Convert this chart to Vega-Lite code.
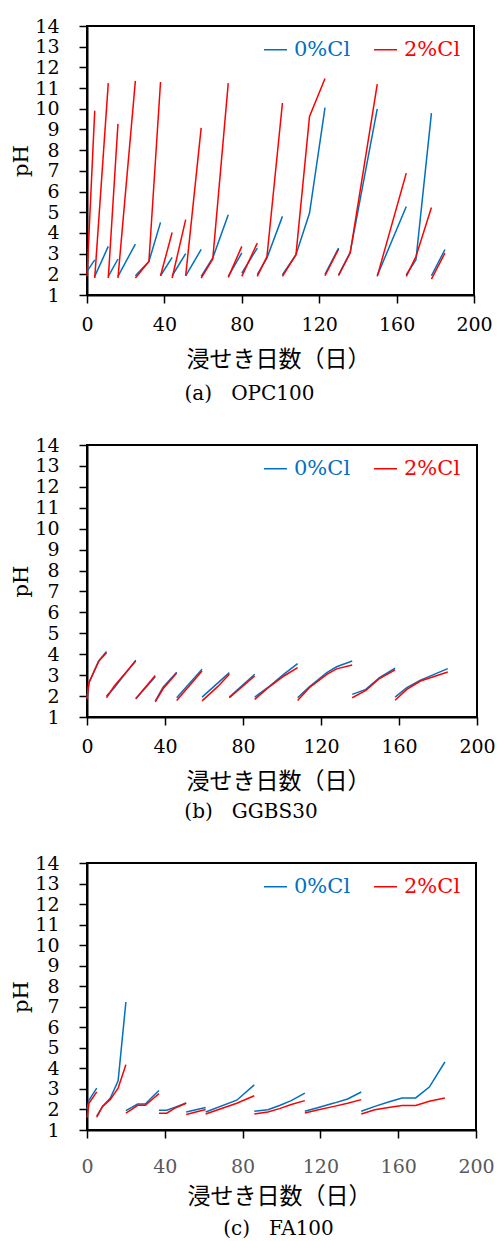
{
  "$schema": "https://vega.github.io/schema/vega-lite/v6.json",
  "padding": {"top": 16, "left": 9, "right": 2, "bottom": 0},
  "spacing": 30,
  "config": {
    "view": {"stroke": "black", "strokeWidth": 2},
    "axis": {
      "domainColor": "black", "domainWidth": 2, "tickColor": "black", "tickWidth": 1.5, "tickSize": 8,
      "grid": false, "labelFont": "DejaVu Serif", "labelFontSize": 19, "labelColor": "black",
      "titleColor": "black", "titleFontWeight": "normal"
    },
    "axisX": {"labelPadding": 12, "titleFont": "Noto Sans CJK JP", "titleFontSize": 23, "titlePadding": 14, "labelFlush": false, "labelOverlap": false},
    "axisY": {"labelPadding": 20, "titleFont": "DejaVu Serif", "titleFontSize": 21, "titlePadding": 3, "labelOverlap": false},
    "title": {"font": "DejaVu Serif", "fontSize": 20, "fontWeight": "normal", "color": "black", "orient": "bottom", "offset": 13},
    "legend": {
      "orient": "none", "direction": "horizontal", "title": null, "padding": 0,
      "symbolType": "stroke", "symbolSize": 529, "symbolStrokeWidth": 2,
      "labelFont": "DejaVu Serif", "labelFontSize": 21, "labelOffset": 6, "columnPadding": 20,
      "labelColor": {"expr": "datum.value == '0%Cl' ? '#0070C0' : '#FF0000'"},
      "legendX": 176, "legendY": 11
    },
    "line": {"strokeWidth": 1.5}
  },
  "resolve": {"scale": {"color": "independent"}, "legend": {"color": "independent"}},
  "datasets": {
    "a": [
      {"s":"0%Cl","g":1,"d":0,"pH":2.14},{"s":"0%Cl","g":1,"d":4,"pH":2.7},
      {"s":"0%Cl","g":2,"d":4,"pH":1.9},{"s":"0%Cl","g":2,"d":11,"pH":3.35},
      {"s":"0%Cl","g":3,"d":11,"pH":1.9},{"s":"0%Cl","g":3,"d":16,"pH":2.74},
      {"s":"0%Cl","g":4,"d":16,"pH":1.9},{"s":"0%Cl","g":4,"d":25,"pH":3.46},
      {"s":"0%Cl","g":5,"d":25,"pH":1.93},{"s":"0%Cl","g":5,"d":32,"pH":2.62},{"s":"0%Cl","g":5,"d":38,"pH":4.51},
      {"s":"0%Cl","g":6,"d":38,"pH":1.93},{"s":"0%Cl","g":6,"d":44,"pH":2.82},
      {"s":"0%Cl","g":7,"d":44,"pH":1.93},{"s":"0%Cl","g":7,"d":51,"pH":3.0},
      {"s":"0%Cl","g":8,"d":51,"pH":1.93},{"s":"0%Cl","g":8,"d":59,"pH":3.2},
      {"s":"0%Cl","g":9,"d":59,"pH":1.9},{"s":"0%Cl","g":9,"d":65,"pH":2.79},{"s":"0%Cl","g":9,"d":73,"pH":4.88},
      {"s":"0%Cl","g":10,"d":73,"pH":1.9},{"s":"0%Cl","g":10,"d":80,"pH":3.03},
      {"s":"0%Cl","g":11,"d":80,"pH":2.06},{"s":"0%Cl","g":11,"d":88,"pH":3.27},
      {"s":"0%Cl","g":12,"d":88,"pH":1.98},{"s":"0%Cl","g":12,"d":93,"pH":2.79},{"s":"0%Cl","g":12,"d":101,"pH":4.8},
      {"s":"0%Cl","g":13,"d":101,"pH":1.98},{"s":"0%Cl","g":13,"d":108,"pH":2.95},{"s":"0%Cl","g":13,"d":115,"pH":4.96},{"s":"0%Cl","g":13,"d":123,"pH":10.06},
      {"s":"0%Cl","g":14,"d":123,"pH":2.0},{"s":"0%Cl","g":14,"d":130,"pH":3.27},
      {"s":"0%Cl","g":15,"d":130,"pH":1.98},{"s":"0%Cl","g":15,"d":136,"pH":3.06},{"s":"0%Cl","g":15,"d":150,"pH":10.0},
      {"s":"0%Cl","g":16,"d":150,"pH":1.93},{"s":"0%Cl","g":16,"d":165,"pH":5.28},
      {"s":"0%Cl","g":17,"d":165,"pH":1.98},{"s":"0%Cl","g":17,"d":170,"pH":2.7},{"s":"0%Cl","g":17,"d":178,"pH":9.79},
      {"s":"0%Cl","g":18,"d":178,"pH":1.93},{"s":"0%Cl","g":18,"d":185,"pH":3.2},
      {"s":"2%Cl","g":1,"d":0,"pH":1.9},{"s":"2%Cl","g":1,"d":4,"pH":9.9},
      {"s":"2%Cl","g":2,"d":4,"pH":1.82},{"s":"2%Cl","g":2,"d":11,"pH":11.24},
      {"s":"2%Cl","g":3,"d":11,"pH":1.82},{"s":"2%Cl","g":3,"d":16,"pH":9.27},
      {"s":"2%Cl","g":4,"d":16,"pH":1.82},{"s":"2%Cl","g":4,"d":25,"pH":11.35},
      {"s":"2%Cl","g":5,"d":25,"pH":1.82},{"s":"2%Cl","g":5,"d":32,"pH":2.62},{"s":"2%Cl","g":5,"d":38,"pH":11.29},
      {"s":"2%Cl","g":6,"d":38,"pH":1.93},{"s":"2%Cl","g":6,"d":44,"pH":4.02},
      {"s":"2%Cl","g":7,"d":44,"pH":1.82},{"s":"2%Cl","g":7,"d":51,"pH":4.64},
      {"s":"2%Cl","g":8,"d":51,"pH":1.93},{"s":"2%Cl","g":8,"d":59,"pH":9.08},
      {"s":"2%Cl","g":9,"d":59,"pH":1.82},{"s":"2%Cl","g":9,"d":65,"pH":2.74},{"s":"2%Cl","g":9,"d":73,"pH":11.24},
      {"s":"2%Cl","g":10,"d":73,"pH":1.85},{"s":"2%Cl","g":10,"d":80,"pH":3.35},
      {"s":"2%Cl","g":11,"d":80,"pH":1.9},{"s":"2%Cl","g":11,"d":88,"pH":3.51},
      {"s":"2%Cl","g":12,"d":88,"pH":1.9},{"s":"2%Cl","g":12,"d":93,"pH":2.86},{"s":"2%Cl","g":12,"d":101,"pH":10.28},
      {"s":"2%Cl","g":13,"d":101,"pH":1.9},{"s":"2%Cl","g":13,"d":108,"pH":2.95},{"s":"2%Cl","g":13,"d":115,"pH":9.63},{"s":"2%Cl","g":13,"d":123,"pH":11.46},
      {"s":"2%Cl","g":14,"d":123,"pH":1.93},{"s":"2%Cl","g":14,"d":130,"pH":3.22},
      {"s":"2%Cl","g":15,"d":130,"pH":1.93},{"s":"2%Cl","g":15,"d":136,"pH":3.03},{"s":"2%Cl","g":15,"d":150,"pH":11.19},
      {"s":"2%Cl","g":16,"d":150,"pH":1.9},{"s":"2%Cl","g":16,"d":165,"pH":6.89},
      {"s":"2%Cl","g":17,"d":165,"pH":1.9},{"s":"2%Cl","g":17,"d":170,"pH":2.86},{"s":"2%Cl","g":17,"d":178,"pH":5.23},
      {"s":"2%Cl","g":18,"d":178,"pH":1.77},{"s":"2%Cl","g":18,"d":185,"pH":3.03}
    ],
    "b": [
      {"s":"0%Cl","g":1,"d":0,"pH":1.9},{"s":"0%Cl","g":1,"d":1,"pH":2.64},{"s":"0%Cl","g":1,"d":6,"pH":3.68},{"s":"0%Cl","g":1,"d":10,"pH":4.13},
      {"s":"0%Cl","g":2,"d":10,"pH":2.0},{"s":"0%Cl","g":2,"d":14,"pH":2.4},{"s":"0%Cl","g":2,"d":25,"pH":3.72},
      {"s":"0%Cl","g":3,"d":25,"pH":1.87},{"s":"0%Cl","g":3,"d":35,"pH":2.92},
      {"s":"0%Cl","g":4,"d":35,"pH":1.76},{"s":"0%Cl","g":4,"d":39,"pH":2.42},{"s":"0%Cl","g":4,"d":46,"pH":3.14},
      {"s":"0%Cl","g":5,"d":46,"pH":1.92},{"s":"0%Cl","g":5,"d":59,"pH":3.28},
      {"s":"0%Cl","g":6,"d":59,"pH":1.95},{"s":"0%Cl","g":6,"d":67,"pH":2.62},{"s":"0%Cl","g":6,"d":73,"pH":3.12},
      {"s":"0%Cl","g":7,"d":73,"pH":1.95},{"s":"0%Cl","g":7,"d":79,"pH":2.45},{"s":"0%Cl","g":7,"d":86,"pH":3.04},
      {"s":"0%Cl","g":8,"d":86,"pH":1.95},{"s":"0%Cl","g":8,"d":94,"pH":2.5},{"s":"0%Cl","g":8,"d":101,"pH":3.05},{"s":"0%Cl","g":8,"d":108,"pH":3.55},
      {"s":"0%Cl","g":9,"d":108,"pH":1.92},{"s":"0%Cl","g":9,"d":114,"pH":2.44},{"s":"0%Cl","g":9,"d":123,"pH":3.12},{"s":"0%Cl","g":9,"d":128,"pH":3.4},{"s":"0%Cl","g":9,"d":136,"pH":3.68},
      {"s":"0%Cl","g":10,"d":136,"pH":2.08},{"s":"0%Cl","g":10,"d":143,"pH":2.32},{"s":"0%Cl","g":10,"d":150,"pH":2.88},{"s":"0%Cl","g":10,"d":158,"pH":3.33},
      {"s":"0%Cl","g":11,"d":158,"pH":1.95},{"s":"0%Cl","g":11,"d":164,"pH":2.4},{"s":"0%Cl","g":11,"d":171,"pH":2.76},{"s":"0%Cl","g":11,"d":185,"pH":3.31},
      {"s":"2%Cl","g":1,"d":0,"pH":1.84},{"s":"2%Cl","g":1,"d":1,"pH":2.64},{"s":"2%Cl","g":1,"d":6,"pH":3.66},{"s":"2%Cl","g":1,"d":10,"pH":4.07},
      {"s":"2%Cl","g":2,"d":10,"pH":1.92},{"s":"2%Cl","g":2,"d":14,"pH":2.48},{"s":"2%Cl","g":2,"d":25,"pH":3.68},
      {"s":"2%Cl","g":3,"d":25,"pH":1.87},{"s":"2%Cl","g":3,"d":35,"pH":2.98},
      {"s":"2%Cl","g":4,"d":35,"pH":1.72},{"s":"2%Cl","g":4,"d":39,"pH":2.35},{"s":"2%Cl","g":4,"d":46,"pH":3.1},
      {"s":"2%Cl","g":5,"d":46,"pH":1.79},{"s":"2%Cl","g":5,"d":59,"pH":3.2},
      {"s":"2%Cl","g":6,"d":59,"pH":1.77},{"s":"2%Cl","g":6,"d":67,"pH":2.45},{"s":"2%Cl","g":6,"d":73,"pH":3.04},
      {"s":"2%Cl","g":7,"d":73,"pH":1.92},{"s":"2%Cl","g":7,"d":79,"pH":2.4},{"s":"2%Cl","g":7,"d":86,"pH":2.96},
      {"s":"2%Cl","g":8,"d":86,"pH":1.84},{"s":"2%Cl","g":8,"d":94,"pH":2.48},{"s":"2%Cl","g":8,"d":101,"pH":2.96},{"s":"2%Cl","g":8,"d":108,"pH":3.36},
      {"s":"2%Cl","g":9,"d":108,"pH":1.79},{"s":"2%Cl","g":9,"d":114,"pH":2.4},{"s":"2%Cl","g":9,"d":123,"pH":3.04},{"s":"2%Cl","g":9,"d":128,"pH":3.3},{"s":"2%Cl","g":9,"d":136,"pH":3.49},
      {"s":"2%Cl","g":10,"d":136,"pH":1.92},{"s":"2%Cl","g":10,"d":143,"pH":2.27},{"s":"2%Cl","g":10,"d":150,"pH":2.84},{"s":"2%Cl","g":10,"d":158,"pH":3.25},
      {"s":"2%Cl","g":11,"d":158,"pH":1.8},{"s":"2%Cl","g":11,"d":164,"pH":2.32},{"s":"2%Cl","g":11,"d":171,"pH":2.72},{"s":"2%Cl","g":11,"d":185,"pH":3.15}
    ],
    "c": [
      {"s":"0%Cl","g":1,"d":0,"pH":2.0},{"s":"0%Cl","g":1,"d":1,"pH":2.45},{"s":"0%Cl","g":1,"d":5,"pH":3.04},
      {"s":"0%Cl","g":2,"d":5,"pH":1.67},{"s":"0%Cl","g":2,"d":8,"pH":2.15},{"s":"0%Cl","g":2,"d":12,"pH":2.56},{"s":"0%Cl","g":2,"d":16,"pH":3.4},{"s":"0%Cl","g":2,"d":20,"pH":7.23},
      {"s":"0%Cl","g":3,"d":20,"pH":1.94},{"s":"0%Cl","g":3,"d":23,"pH":2.1},{"s":"0%Cl","g":3,"d":26,"pH":2.27},{"s":"0%Cl","g":3,"d":30,"pH":2.27},{"s":"0%Cl","g":3,"d":33,"pH":2.56},{"s":"0%Cl","g":3,"d":37,"pH":2.92},
      {"s":"0%Cl","g":4,"d":37,"pH":1.96},{"s":"0%Cl","g":4,"d":41,"pH":1.96},{"s":"0%Cl","g":4,"d":45,"pH":2.1},{"s":"0%Cl","g":4,"d":51,"pH":2.32},
      {"s":"0%Cl","g":5,"d":51,"pH":1.88},{"s":"0%Cl","g":5,"d":61,"pH":2.1},
      {"s":"0%Cl","g":6,"d":61,"pH":1.88},{"s":"0%Cl","g":6,"d":77,"pH":2.45},{"s":"0%Cl","g":6,"d":86,"pH":3.2},
      {"s":"0%Cl","g":7,"d":86,"pH":1.91},{"s":"0%Cl","g":7,"d":93,"pH":1.99},{"s":"0%Cl","g":7,"d":99,"pH":2.19},{"s":"0%Cl","g":7,"d":105,"pH":2.43},{"s":"0%Cl","g":7,"d":112,"pH":2.8},
      {"s":"0%Cl","g":8,"d":112,"pH":1.91},{"s":"0%Cl","g":8,"d":119,"pH":2.1},{"s":"0%Cl","g":8,"d":127,"pH":2.31},{"s":"0%Cl","g":8,"d":134,"pH":2.51},{"s":"0%Cl","g":8,"d":141,"pH":2.85},
      {"s":"0%Cl","g":9,"d":141,"pH":1.91},{"s":"0%Cl","g":9,"d":148,"pH":2.15},{"s":"0%Cl","g":9,"d":155,"pH":2.36},{"s":"0%Cl","g":9,"d":162,"pH":2.56},{"s":"0%Cl","g":9,"d":169,"pH":2.56},{"s":"0%Cl","g":9,"d":176,"pH":3.09},{"s":"0%Cl","g":9,"d":184,"pH":4.31},
      {"s":"2%Cl","g":1,"d":0,"pH":1.6},{"s":"2%Cl","g":1,"d":1,"pH":2.3},{"s":"2%Cl","g":1,"d":5,"pH":2.86},
      {"s":"2%Cl","g":2,"d":5,"pH":1.62},{"s":"2%Cl","g":2,"d":8,"pH":2.15},{"s":"2%Cl","g":2,"d":12,"pH":2.48},{"s":"2%Cl","g":2,"d":16,"pH":3.04},{"s":"2%Cl","g":2,"d":20,"pH":4.18},
      {"s":"2%Cl","g":3,"d":20,"pH":1.82},{"s":"2%Cl","g":3,"d":23,"pH":2.0},{"s":"2%Cl","g":3,"d":26,"pH":2.2},{"s":"2%Cl","g":3,"d":30,"pH":2.2},{"s":"2%Cl","g":3,"d":33,"pH":2.45},{"s":"2%Cl","g":3,"d":37,"pH":2.77},
      {"s":"2%Cl","g":4,"d":37,"pH":1.82},{"s":"2%Cl","g":4,"d":41,"pH":1.82},{"s":"2%Cl","g":4,"d":45,"pH":2.05},{"s":"2%Cl","g":4,"d":51,"pH":2.3},
      {"s":"2%Cl","g":5,"d":51,"pH":1.75},{"s":"2%Cl","g":5,"d":61,"pH":2.0},
      {"s":"2%Cl","g":6,"d":61,"pH":1.78},{"s":"2%Cl","g":6,"d":77,"pH":2.3},{"s":"2%Cl","g":6,"d":86,"pH":2.67},
      {"s":"2%Cl","g":7,"d":86,"pH":1.78},{"s":"2%Cl","g":7,"d":93,"pH":1.88},{"s":"2%Cl","g":7,"d":99,"pH":2.04},{"s":"2%Cl","g":7,"d":105,"pH":2.24},{"s":"2%Cl","g":7,"d":112,"pH":2.43},
      {"s":"2%Cl","g":8,"d":112,"pH":1.83},{"s":"2%Cl","g":8,"d":119,"pH":1.99},{"s":"2%Cl","g":8,"d":127,"pH":2.15},{"s":"2%Cl","g":8,"d":134,"pH":2.3},{"s":"2%Cl","g":8,"d":141,"pH":2.48},
      {"s":"2%Cl","g":9,"d":141,"pH":1.78},{"s":"2%Cl","g":9,"d":148,"pH":1.99},{"s":"2%Cl","g":9,"d":155,"pH":2.1},{"s":"2%Cl","g":9,"d":162,"pH":2.19},{"s":"2%Cl","g":9,"d":169,"pH":2.19},{"s":"2%Cl","g":9,"d":176,"pH":2.4},{"s":"2%Cl","g":9,"d":184,"pH":2.56}
    ]
  },
  "vconcat": [
    {
      "width": 387, "height": 269,
      "data": {"name": "a"},
      "title": {"text": "(a)\u00a0\u00a0\u00a0OPC100", "dx": -31},
      "mark": {"type": "line"},
      "encoding": {
        "x": {"field": "d", "type": "quantitative", "scale": {"domain": [0, 200]}, "axis": {"values": [0, 40, 80, 120, 160, 200], "title": "浸せき日数（日）", "titleX": 191}},
        "y": {"field": "pH", "type": "quantitative", "scale": {"domain": [1, 14]}, "axis": {"values": [1,2,3,4,5,6,7,8,9,10,11,12,13,14], "title": "pH"}},
        "color": {"field": "s", "type": "nominal", "scale": {"domain": ["0%Cl", "2%Cl"], "range": ["#0070C0", "#FF0000"]}},
        "detail": {"field": "g", "type": "nominal"},
        "order": {"field": "d", "type": "quantitative"}
      }
    },
    {
      "width": 390, "height": 272,
      "data": {"name": "b"},
      "title": {"text": "(b)\u00a0\u00a0\u00a0GGBS30", "dx": -31, "offset": 9},
      "mark": {"type": "line"},
      "encoding": {
        "x": {"field": "d", "type": "quantitative", "scale": {"domain": [0, 200]}, "axis": {"values": [0, 40, 80, 120, 160, 200], "title": "浸せき日数（日）", "titleX": 191}},
        "y": {"field": "pH", "type": "quantitative", "scale": {"domain": [1, 14]}, "axis": {"values": [1,2,3,4,5,6,7,8,9,10,11,12,13,14], "title": "pH"}},
        "color": {"field": "s", "type": "nominal", "scale": {"domain": ["0%Cl", "2%Cl"], "range": ["#0070C0", "#FF0000"]}},
        "detail": {"field": "g", "type": "nominal"},
        "order": {"field": "d", "type": "quantitative"}
      }
    },
    {
      "width": 389, "height": 267,
      "data": {"name": "c"},
      "title": {"text": "(c)\u00a0\u00a0\u00a0FA100", "dx": -3, "offset": 11},
      "mark": {"type": "line"},
      "encoding": {
        "x": {"field": "d", "type": "quantitative", "scale": {"domain": [0, 200]}, "axis": {"values": [0, 40, 80, 120, 160, 200], "title": "浸せき日数（日）", "titleX": 192, "labelColor": "#595959", "labelPadding": 19, "titlePadding": 9}},
        "y": {"field": "pH", "type": "quantitative", "scale": {"domain": [1, 14]}, "axis": {"values": [1,2,3,4,5,6,7,8,9,10,11,12,13,14], "title": "pH"}},
        "color": {"field": "s", "type": "nominal", "scale": {"domain": ["0%Cl", "2%Cl"], "range": ["#0070C0", "#FF0000"]}},
        "detail": {"field": "g", "type": "nominal"},
        "order": {"field": "d", "type": "quantitative"}
      }
    }
  ]
}
